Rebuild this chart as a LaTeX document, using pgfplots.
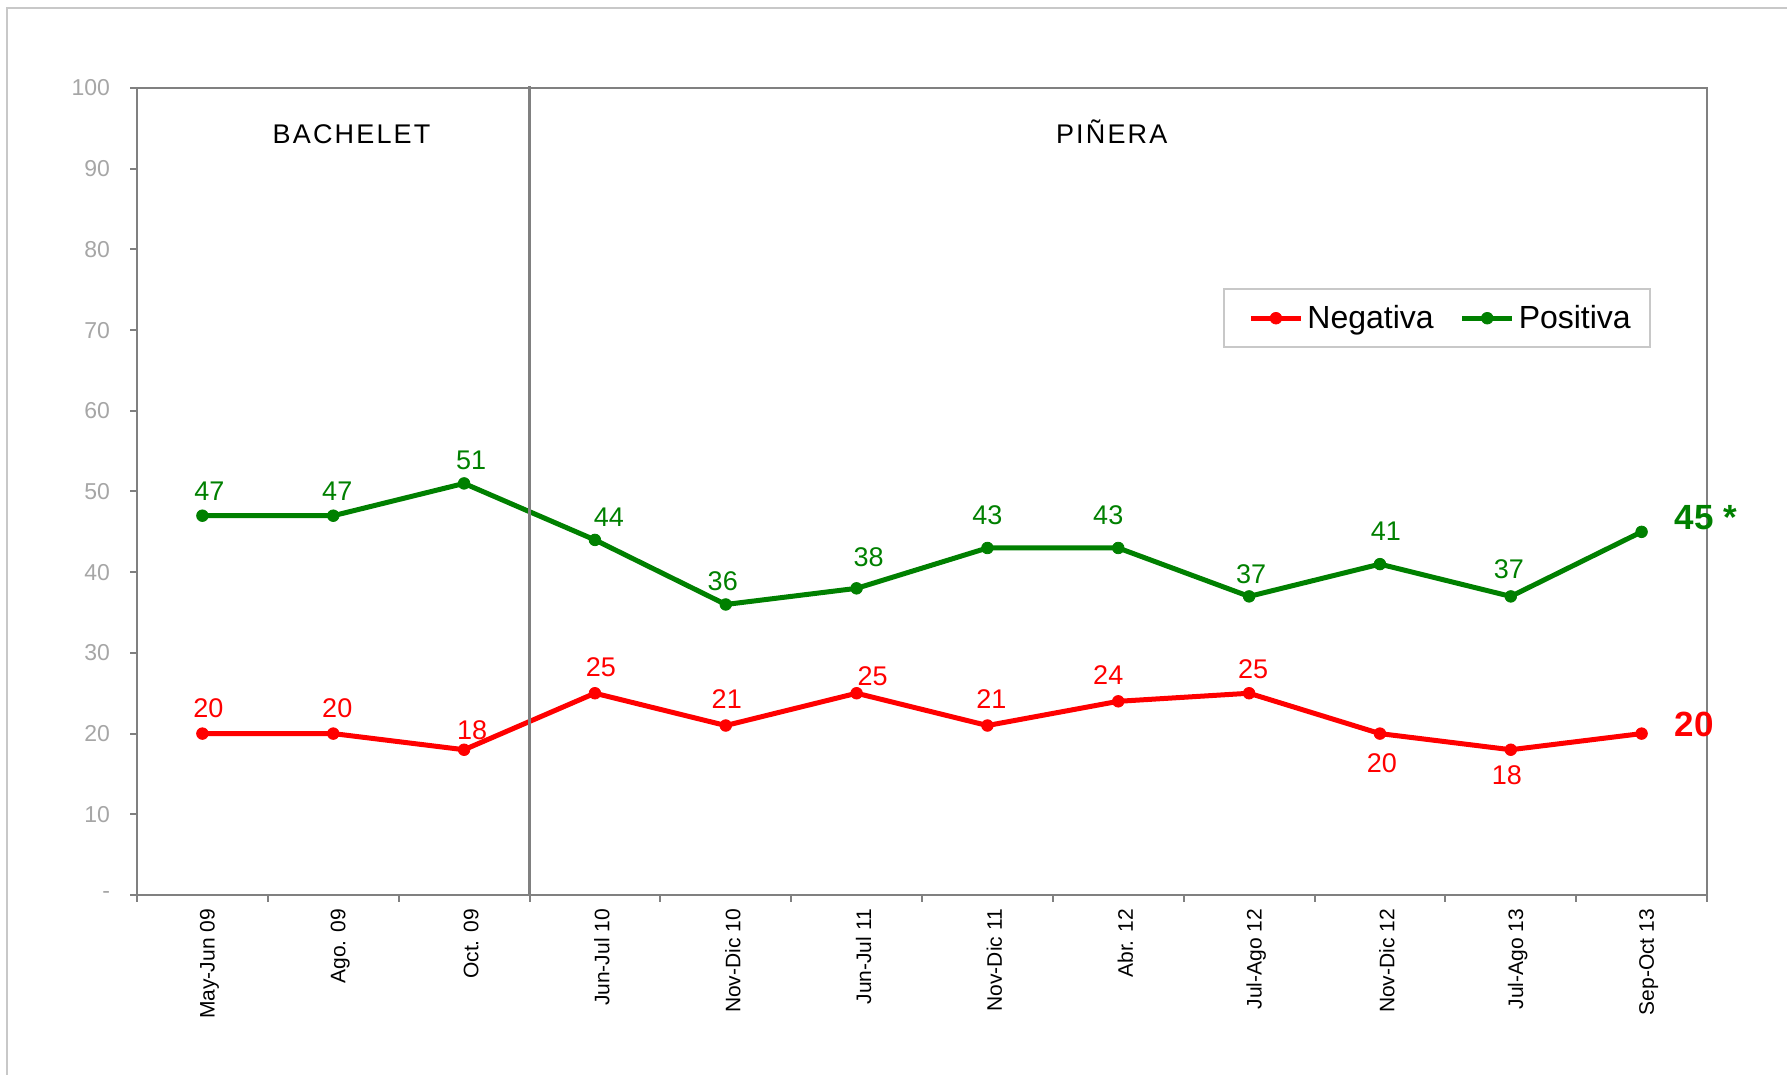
\documentclass[border=0pt]{standalone}
\usepackage{pgfplots}
\pgfplotsset{compat=1.18}
\usepackage{pgfplotstable}
\usepackage{fontspec}
\setmainfont{Liberation Sans}
\definecolor{negred}{HTML}{FF0000}
\definecolor{posgreen}{HTML}{008000}
\definecolor{axgray}{HTML}{808080}
\definecolor{lblgray}{HTML}{A6A6A6}
\definecolor{framegray}{HTML}{C8C8C8}

% x, value, label, label shift (pt)
\pgfplotstableread{
x y lbl dx dy
0 20 20 3 12.5
1 20 20 2 12.5
2 18 18 4 10
3 25 25 3 13
4 21 21 0.5 13
5 25 25 8 8.5
6 21 21 2 13
7 24 24 -5 13
8 25 25 2 12
9 20 20 1 -15
10 18 18 -2 -12.5
11 20 {} 0 0
}\negativa

\pgfplotstableread{
x y lbl dx dy
0 47 47 3.5 12
1 47 47 2 12
2 51 51 3.5 11.5
3 44 44 7 11.5
4 36 36 -1.5 11.5
5 38 38 6 15.5
6 43 43 0 16.5
7 43 43 -5 16.5
8 37 37 1 11
9 41 41 3 16.5
10 37 37 -1 13.5
11 45 {} 0 0
}\positiva

\begin{document}
\begin{tikzpicture}
\useasboundingbox (0,0) rectangle (893.5pt,537.5pt);
\draw[framegray, line width=1pt] (3.5pt,-20pt) -- (3.5pt,533.5pt) -- (920pt,533.5pt);
\begin{axis}[
  at={(68.5pt,90pt)}, anchor=south west,
  scale only axis, width=785pt, height=403.5pt,
  xmin=-0.5, xmax=11.5, ymin=0, ymax=100,
  clip=false,
  axis line style={axgray, line width=1pt},
  tick align=outside,
  xtick pos=left, ytick pos=left,
  major tick length=3.5pt, minor tick length=3.5pt,
  ytick={0,10,...,100},
  yticklabels={-,10,20,30,40,50,60,70,80,90,100},
  major y tick style={axgray, line width=1pt},
  xtick={0,...,11},
  xticklabels={May-Jun 09,Ago. 09,Oct. 09,Jun-Jul 10,Nov-Dic 10,Jun-Jul 11,Nov-Dic 11,Abr. 12,Jul-Ago 12,Nov-Dic 12,Jul-Ago 13,Sep-Oct 13},
  minor xtick={-0.5,0.5,...,11.5},
  major x tick style={draw=none},
  minor x tick style={axgray, line width=1pt},
  yticklabel style={font=\fontsize{11.5}{13}\selectfont, text=lblgray, xshift=-6.5pt},
  xticklabel style={font=\fontsize{10.5}{12}\selectfont, text=black, rotate=90, anchor=east, yshift=-3.5pt},
  legend style={at={(0.692,0.752)}, anchor=north west, draw=framegray, line width=1pt,
    font=\fontsize{16}{18}\selectfont, inner xsep=7.5pt, inner ysep=6pt,
    /tikz/every even column/.append style={column sep=6.5pt}},
  legend columns=2,
  legend image code/.code={\path (0pt,0pt);
    \draw[mark repeat=2, mark phase=2, #1] plot coordinates {(4.5pt,0pt) (17pt,0pt) (29.5pt,0pt)};},
  visualization depends on={\thisrow{dx} \as \ldx},
  visualization depends on={\thisrow{dy} \as \ldy},
  nodes near coords,
  point meta=explicit symbolic,
  every node near coord/.append style={anchor=center, xshift=\ldx pt, yshift=\ldy pt, font=\fontsize{13.5}{15}\selectfont},
]
\addplot[negred, line width=2.5pt, mark=*, mark size=2.9pt, mark options={solid, fill=negred, line width=0.4pt}]
  table[x=x, y=y, meta=lbl] {\negativa};
\addlegendentry{Negativa}
\addplot[posgreen, line width=2.5pt, mark=*, mark size=2.9pt, mark options={solid, fill=posgreen, line width=0.4pt}]
  table[x=x, y=y, meta=lbl] {\positiva};
\addlegendentry{Positiva}

\draw[axgray, line width=1.5pt] (axis cs:2.5,0) -- (axis cs:2.5,100.3);
\node[anchor=base, font=\fontsize{13.5}{15}\selectfont\addfontfeature{LetterSpace=8}] at (axis cs:1.14,93.1) {BACHELET};
\node[anchor=base, font=\fontsize{13.5}{15}\selectfont\addfontfeature{LetterSpace=8}] at (axis cs:6.95,93.1) {PIÑERA};
\node[anchor=west, inner sep=0pt, text=posgreen, font=\fontsize{17.5}{20}\selectfont\bfseries] at (axis cs:11.25,46.8) {45 *};
\node[anchor=west, inner sep=0pt, text=negred, font=\fontsize{17.5}{20}\selectfont\bfseries] at (axis cs:11.25,21.1) {20};
\end{axis}
\end{tikzpicture}
\end{document}
